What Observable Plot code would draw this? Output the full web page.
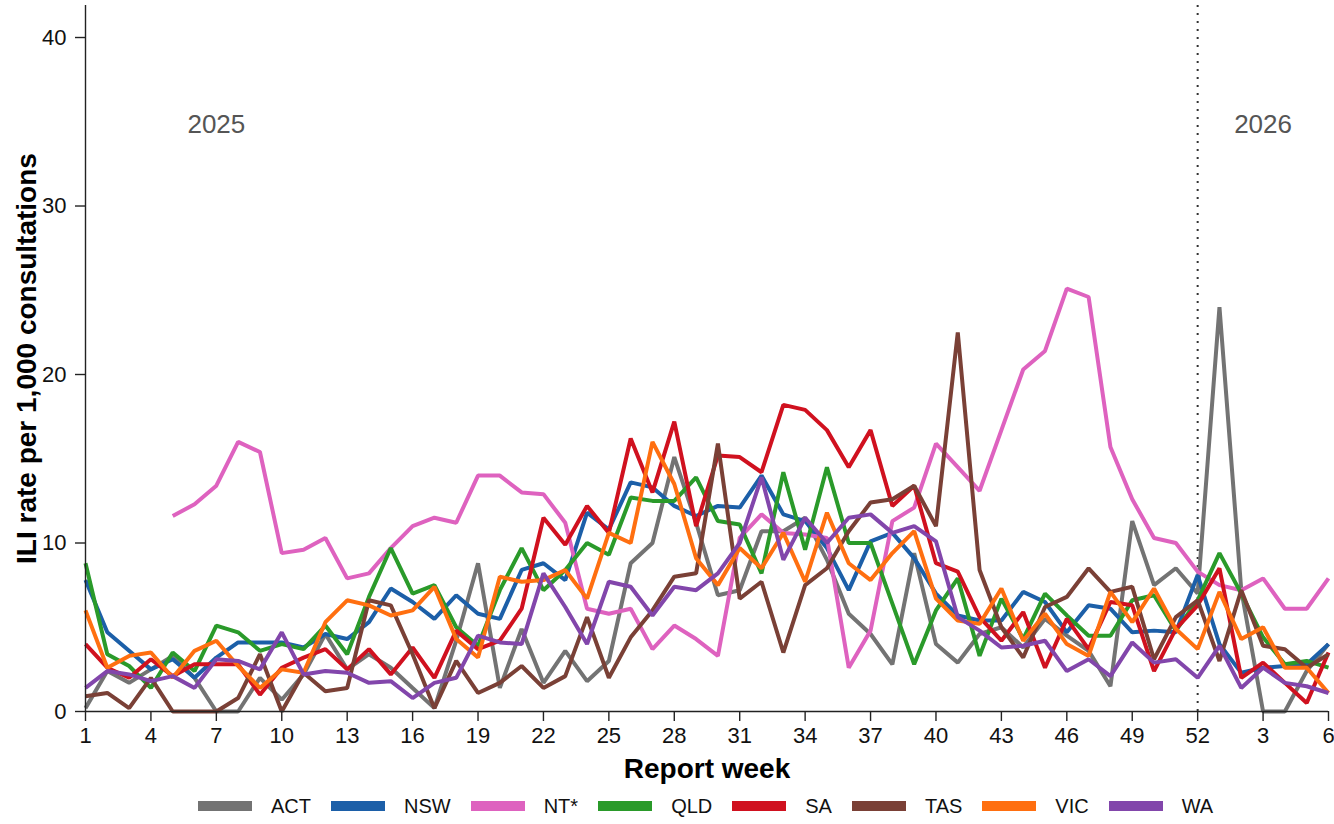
<!DOCTYPE html>
<html>
<head>
<meta charset="utf-8">
<script src="https://cdn.jsdelivr.net/npm/d3@7"></script>
<script src="https://cdn.jsdelivr.net/npm/@observablehq/plot@0.6"></script>
<style>
  html, body { margin: 0; padding: 0; background: #fff; }
  body { width: 1334px; height: 824px; position: relative; font-family: "Liberation Sans", Arial, sans-serif; }
  #legend { position: absolute; left: 198px; top: 796px; display: flex; align-items: center; height: 20px; }
  .item { display: flex; align-items: center; margin-right: 20px; }
  .sw { width: 54px; height: 10px; margin-right: 19px; }
  .lab { font-size: 20px; color: #111; line-height: 20px; }
</style>
</head>
<body>
<div id="chart"></div>
<div id="legend"></div>
<script>
// Report week labels (2025 weeks 1-52, then 2026 weeks 1-6)
const reportWeek = [1,2,3,4,5,6,7,8,9,10,11,12,13,14,15,16,17,18,19,20,21,22,23,24,25,26,27,28,29,30,
  31,32,33,34,35,36,37,38,39,40,41,42,43,44,45,46,47,48,49,50,51,52,1,2,3,4,5,6];

const states = ["ACT","NSW","NT*","QLD","SA","TAS","VIC","WA"];
const colors = ["#737373","#1c5fa8","#de62bf","#2a9a2a","#d0111f","#7a4036","#ff6f10","#8246ab"];

const ACT = [0.2,2.4,1.7,2.5,3.3,2.0,0,0,2.0,0.7,2.2,4.6,2.5,3.4,2.6,1.4,0.2,4.2,8.8,1.4,
  4.9,1.7,3.6,1.8,3.0,8.8,10.0,15.1,11.2,6.9,7.2,10.7,10.7,11.5,9.0,5.8,4.6,2.8,9.4,4.0,
  2.9,4.6,5.0,3.8,5.5,4.5,3.6,1.5,11.3,7.5,8.5,7.0,24.0,7.2,0,0,2.4,4.0];
const NSW = [7.8,4.7,3.6,2.5,3.1,2.0,3.2,4.1,4.1,4.1,3.8,4.6,4.3,5.3,7.3,6.5,5.5,6.9,5.8,5.5,
  8.4,8.8,7.8,11.8,10.8,13.6,13.3,12.2,11.6,12.2,12.1,14.0,11.7,11.3,9.7,7.2,10.1,10.6,9.1,7.0,
  5.7,5.4,5.4,7.1,6.5,4.7,6.3,6.1,4.7,4.8,4.7,8.1,4.0,2.3,2.6,2.7,2.8,4.0];
const NT = [null,null,null,null,11.6,12.3,13.4,16.0,15.4,9.4,9.6,10.3,7.9,8.2,9.7,11.0,11.5,11.2,14.0,14.0,
  13.0,12.9,11.2,6.1,5.8,6.1,3.7,5.1,4.3,3.3,10.3,11.7,10.6,10.5,10.3,2.6,4.8,11.3,12.1,15.9,
  14.5,13.1,16.7,20.3,21.4,25.1,24.6,15.7,12.6,10.3,10.0,8.3,7.5,7.2,7.9,6.1,6.1,7.9];
const QLD = [8.8,3.4,2.7,1.4,3.5,2.4,5.1,4.7,3.6,4.0,3.7,5.1,3.4,6.8,9.7,7.0,7.5,5.0,3.9,7.2,
  9.7,7.2,8.4,10.0,9.3,12.7,12.5,12.5,13.9,11.3,11.1,8.2,14.2,9.6,14.5,10.0,10.0,6.4,2.8,6.0,
  7.9,3.3,6.7,4.3,7.0,5.7,4.5,4.5,6.6,6.9,4.8,6.6,9.4,7.0,4.4,2.8,3.0,2.6];
const SA = [4.0,2.6,2.0,3.1,2.1,2.8,2.8,2.8,1.0,2.6,3.2,3.7,2.5,3.7,2.2,3.8,2.0,4.8,3.7,4.2,
  6.1,11.5,9.9,12.2,10.6,16.2,13.0,17.2,11.0,15.2,15.1,14.2,18.2,17.9,16.7,14.5,16.7,12.2,13.4,8.8,
  8.3,5.6,4.2,5.9,2.6,5.5,3.7,6.5,6.3,2.4,4.9,6.3,8.5,2.0,2.9,1.7,0.5,3.5];
const TAS = [0.9,1.1,0.2,2.0,0,0,0,0.8,3.4,0,2.3,1.2,1.4,6.6,6.3,3.4,0.2,3.0,1.1,1.7,
  2.7,1.4,2.1,5.6,2.0,4.4,6.0,8.0,8.2,15.9,6.7,7.7,3.5,7.5,8.5,10.7,12.4,12.6,13.4,11.0,
  22.5,8.4,5.0,3.2,6.2,6.8,8.5,7.1,7.4,3.1,5.6,6.6,3.0,7.2,3.9,3.7,2.6,3.4];
const VIC = [6.0,2.6,3.3,3.5,2.0,3.6,4.2,2.7,1.4,2.5,2.3,5.3,6.6,6.3,5.7,6.0,7.4,4.3,3.2,8.0,
  7.7,7.8,8.4,6.7,10.6,10.0,16.0,13.5,9.1,7.5,9.7,8.5,10.6,7.7,11.8,8.8,7.8,9.4,10.7,6.7,
  5.4,5.2,7.3,4.2,5.8,4.0,3.3,7.1,5.3,7.3,4.9,3.7,7.1,4.3,5.0,2.6,2.6,1.1];
const WA = [1.4,2.4,2.2,1.8,2.1,1.4,3.1,3.0,2.5,4.7,2.2,2.4,2.3,1.7,1.8,0.8,1.7,2.0,4.5,4.1,
  4.0,8.2,6.2,4.0,7.7,7.4,5.7,7.4,7.2,8.2,10.0,13.9,9.0,11.5,10.0,11.5,11.7,10.6,11.0,10.1,
  5.6,4.8,3.8,3.9,4.2,2.4,3.1,2.1,4.1,2.9,3.1,2.0,3.9,1.4,2.6,1.7,1.5,1.1];

const series = [ACT, NSW, NT, QLD, SA, TAS, VIC, WA];

// Tick positions (sequential week index) and y ticks
const xTickIndex = [1,4,7,10,13,16,19,22,25,28,31,34,37,40,43,46,49,52,55,58];
const yTicks = [0,10,20,30,40];
const yearBreak = [52];
const yearLabels = [{week: 7, value: 34.8, text: "2025"}, {week: 55, value: 34.8, text: "2026"}];

const rows = [];
series.forEach((vals, s) => {
  vals.forEach((v, i) => {
    rows.push({state: states[s], week: i + 1, value: v});
  });
});

const chart = Plot.plot({
  width: 1334,
  height: 785,
  marginTop: 5,
  marginBottom: 74,
  marginLeft: 85,
  marginRight: 6,
  style: {fontFamily: "'Liberation Sans', Arial, sans-serif", fontSize: "22px", background: "#fff", color: "#111"},
  x: {domain: [1, 58], axis: null},
  y: {domain: [0, 41.9], axis: null},
  color: {domain: states, range: colors},
  marks: [
    Plot.ruleX(yearBreak, {stroke: "#333", strokeWidth: 2, strokeDasharray: "2,6"}),
    Plot.line(rows, {x: "week", y: "value", z: "state", stroke: "state", strokeWidth: 4, strokeLinejoin: "miter", strokeLinecap: "butt", curve: "linear"}),
    Plot.text(yearLabels, {x: "week", y: "value", text: "text", fontSize: 26, fill: "#555"}),
    Plot.ruleX([1], {stroke: "#222", strokeWidth: 1.4}),
    Plot.ruleY([0], {stroke: "#222", strokeWidth: 1.4}),
    Plot.axisY({ticks: yTicks, tickSize: 10, tickPadding: 9, fontSize: 22, label: null, stroke: "#222", strokeWidth: 1.4}),
    Plot.axisX({ticks: xTickIndex, tickFormat: d => String(reportWeek[d - 1]), tickSize: 10, tickPadding: 6, fontSize: 22, label: null, stroke: "#222", strokeWidth: 1.4}),
    Plot.text(["Report week"], {frameAnchor: "bottom", dy: 58, lineAnchor: "middle", textAnchor: "middle", fontSize: 28, fontWeight: "bold", fill: "#000"}),
    Plot.text(["ILI rate per 1,000 consultations"], {frameAnchor: "left", dx: -58, rotate: -90, textAnchor: "middle", lineAnchor: "middle", fontSize: 28, fontWeight: "bold", fill: "#000"})
  ]
});
document.getElementById("chart").appendChild(chart);

const legend = document.getElementById("legend");
states.forEach((s, i) => {
  const item = document.createElement("div");
  item.className = "item";
  const sw = document.createElement("div");
  sw.className = "sw";
  sw.style.background = colors[i];
  const lab = document.createElement("span");
  lab.className = "lab";
  lab.textContent = s;
  item.appendChild(sw);
  item.appendChild(lab);
  legend.appendChild(item);
});
</script>
</body>
</html>
